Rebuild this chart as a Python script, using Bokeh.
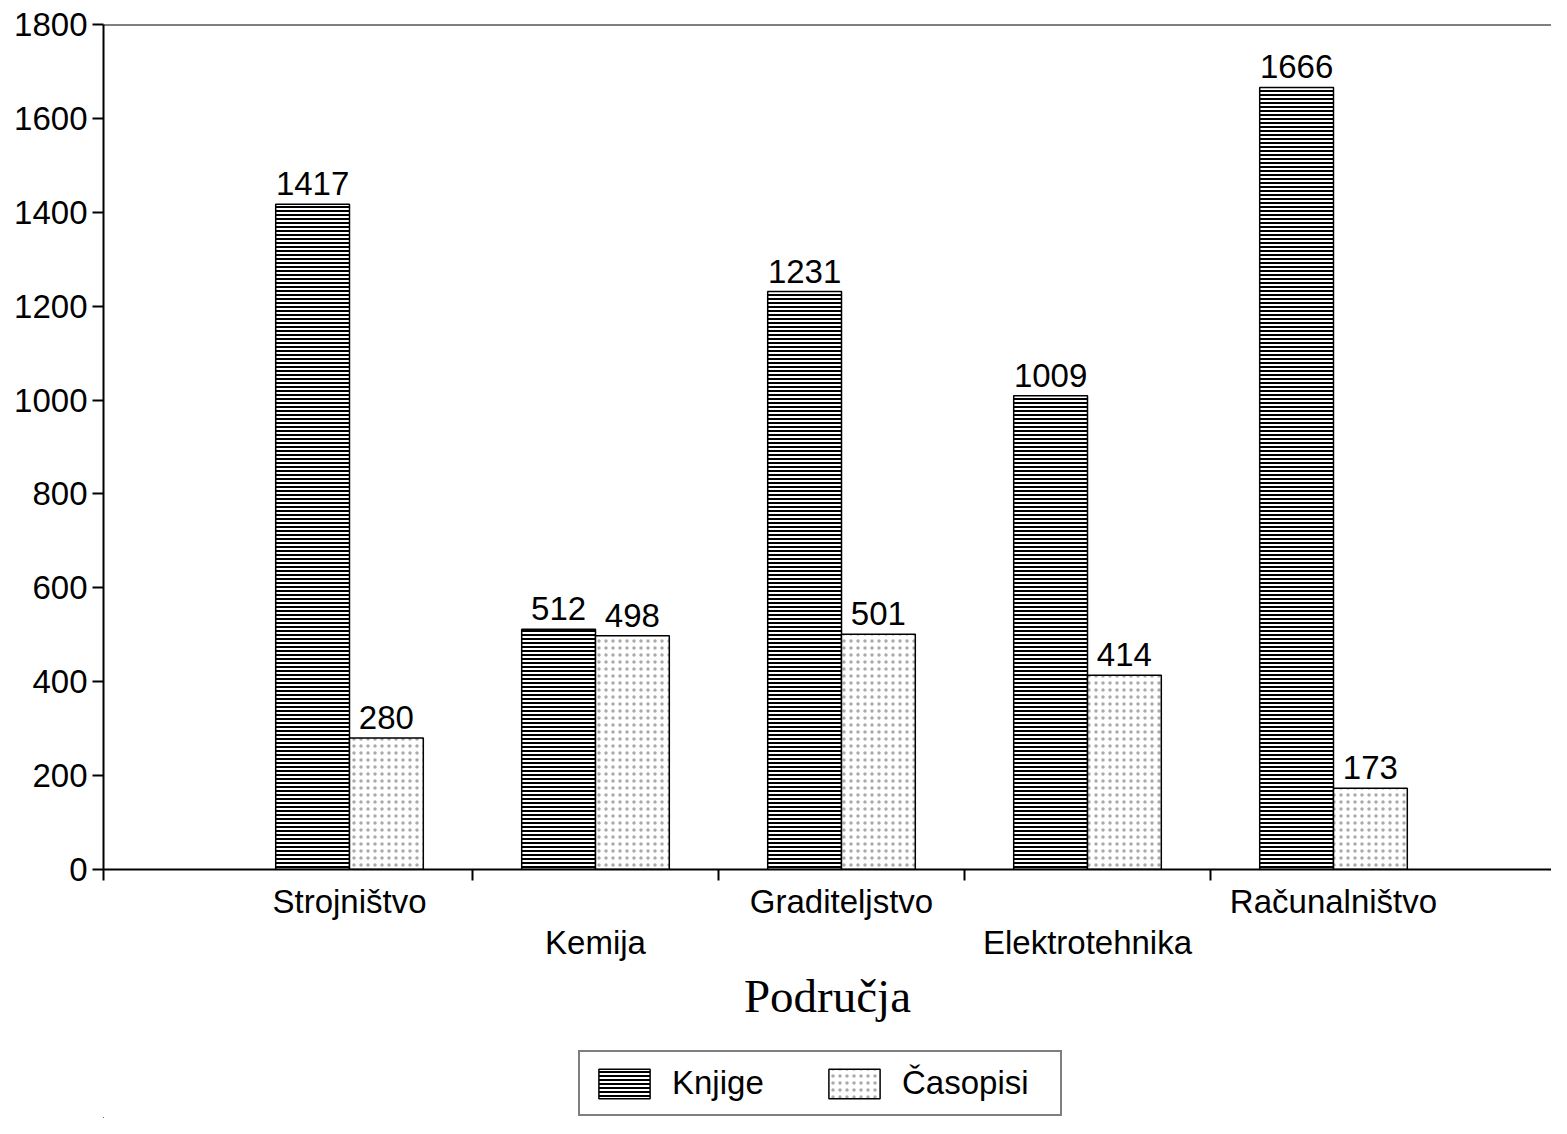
from bokeh.plotting import figure
from bokeh.models import (ColumnDataSource, Range1d, FixedTicker, LinearAxis,
                          Legend, LegendItem, Span)
from bokeh.layouts import column
from bokeh.core.properties import value
from bokeh.transform import dodge
from bokeh.embed import file_html
from bokeh.resources import INLINE

# ---- data ----
categories = ["Strojništvo", "Kemija", "Graditeljstvo", "Elektrotehnika", "Računalništvo"]
knjige = [1417, 512, 1231, 1009, 1666]
casopisi = [280, 498, 501, 414, 173]
series_names = ["Knjige", "Časopisi"]
y_ticks = [0, 200, 400, 600, 800, 1000, 1200, 1400, 1600, 1800]

FONT = "Liberation Sans"
FS = "33px"

KNJ_STYLE = dict(fill_color="white", line_color="black", line_width=1.5,
                 hatch_pattern="horizontal_line", hatch_scale=4, hatch_weight=2,
                 hatch_color="black")
CAS_STYLE = dict(fill_color="white", line_color="black", line_width=1.5,
                 hatch_pattern="dot", hatch_scale=7, hatch_weight=1.2,
                 hatch_color="#aaaaaa")

pos = [i + 1 for i in range(len(categories))]
src = ColumnDataSource(dict(x=pos, cat=categories, knjige=knjige, casopisi=casopisi,
                            kl=[str(v) for v in knjige], cl=[str(v) for v in casopisi]))

p = figure(width=1551, height=1048, output_backend="svg",
           toolbar_location=None, x_range=Range1d(0, 1448 / 246),
           y_range=Range1d(0, 1800), min_border_left=103, min_border_right=0,
           min_border_top=24, min_border_bottom=179)
p.outline_line_color = None
p.xgrid.grid_line_color = None
p.ygrid.grid_line_color = None
p.background_fill_color = "white"
p.border_fill_color = "white"

# top frame line
p.add_layout(Span(location=1800, dimension="width", line_color="black", line_width=2))

p.vbar(x=dodge("x", -0.15, range=p.x_range), top="knjige", width=0.3, source=src, **KNJ_STYLE)
p.vbar(x=dodge("x", 0.15, range=p.x_range), top="casopisi", width=0.3, source=src, **CAS_STYLE)

p.text(x=dodge("x", -0.15, range=p.x_range), y="knjige", text="kl", source=src,
       text_font=value(FONT), text_font_size=FS, text_align="center",
       text_baseline="bottom", y_offset=-9, text_color="black")
p.text(x=dodge("x", 0.15, range=p.x_range), y="casopisi", text="cl", source=src,
       text_font=value(FONT), text_font_size=FS, text_align="center",
       text_baseline="bottom", y_offset=-9, text_color="black")

# y axis
ya = p.yaxis[0]
ya.ticker = FixedTicker(ticks=y_ticks)
ya.major_tick_out = 11
ya.major_tick_in = 0
ya.minor_tick_line_color = None
ya.axis_line_width = 2
ya.major_tick_line_width = 2
ya.major_label_text_font = FONT
ya.major_label_text_font_size = FS
ya.major_label_text_color = "black"
ya.major_label_standoff = 5

# x axis row 1 (odd categories) with boundary ticks as minor ticks
row1 = [pos[i] for i in range(0, len(pos), 2)]
row2 = [pos[i] for i in range(1, len(pos), 2)]
bounds = [0] + [pos[i] + 0.5 for i in range(len(pos) - 1)]

xa = p.xaxis[0]
xa.ticker = FixedTicker(ticks=row1, minor_ticks=bounds)
xa.major_label_overrides = {pos[i]: categories[i] for i in range(0, len(pos), 2)}
xa.major_tick_line_color = None
xa.major_tick_out = 0
xa.minor_tick_out = 11
xa.minor_tick_in = 0
xa.minor_tick_line_width = 2
xa.axis_line_width = 2
xa.major_label_text_font = FONT
xa.major_label_text_font_size = FS
xa.major_label_text_color = "black"
xa.major_label_standoff = 2

xb = LinearAxis(ticker=FixedTicker(ticks=row2, minor_ticks=[]),
                major_label_overrides={pos[i]: categories[i] for i in range(1, len(pos), 2)})
xb.axis_line_color = None
xb.major_tick_line_color = None
xb.minor_tick_line_color = None
xb.major_tick_out = 0
xb.major_label_text_font = FONT
xb.major_label_text_font_size = FS
xb.major_label_text_color = "black"
xb.major_label_standoff = 1
xb.axis_label = "Područja"
xb.axis_label_text_font = "Liberation Serif"
xb.axis_label_text_font_size = "47px"
xb.axis_label_text_font_style = "normal"
xb.axis_label_text_color = "black"
xb.axis_label_standoff = 6
p.add_layout(xb, "below")

# ---- legend strip (separate figure under the chart; its bars lie outside its view) ----
lg = figure(width=1551, height=70, output_backend="svg", toolbar_location=None,
            x_range=Range1d(100, 101), y_range=Range1d(100000, 100001), min_border=0)
lg.axis.visible = False
lg.grid.grid_line_color = None
lg.outline_line_color = None
lg.border_fill_color = "white"
lr1 = lg.vbar(x="x", top="knjige", width=0.3, source=src, **KNJ_STYLE)
lr2 = lg.vbar(x="x", top="casopisi", width=0.3, source=src, **CAS_STYLE)
legend = Legend(items=[LegendItem(label=series_names[0], renderers=[lr1]),
                       LegendItem(label=series_names[1], renderers=[lr2])],
                orientation="horizontal", location=(475, 2),
                label_text_font=FONT, label_text_font_size=FS, label_text_color="black",
                glyph_width=64, glyph_height=37, label_standoff=16, spacing=4,
                label_width=146, padding=12, margin=0,
                border_line_color="black", border_line_width=2,
                label_height=37, background_fill_color="white", background_fill_alpha=1)
lg.add_layout(legend, "center")

layout = column(p, lg, spacing=0)
open("out.html", "w").write(file_html(layout, INLINE))
